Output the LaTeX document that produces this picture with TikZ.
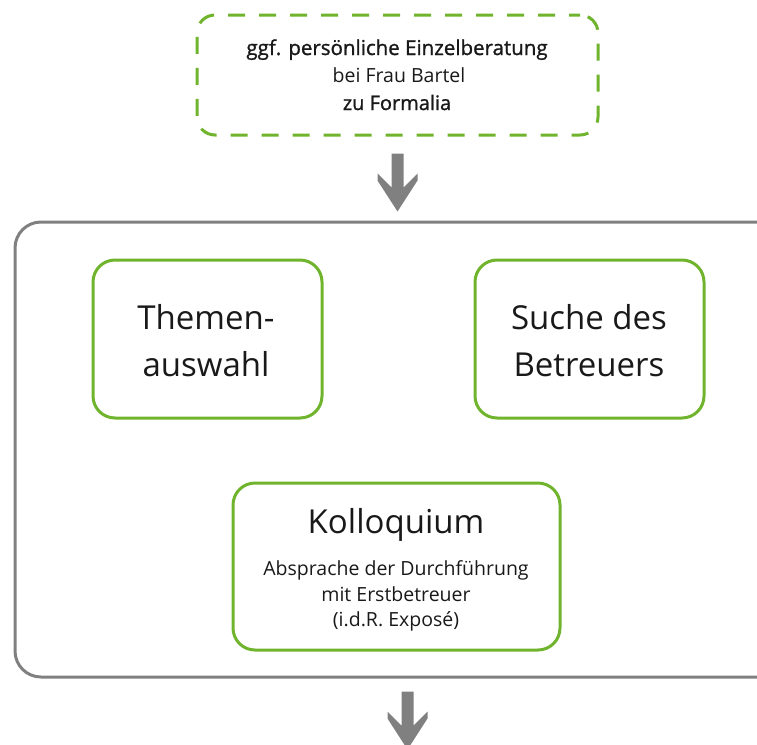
\documentclass[tikz,border=0pt]{standalone}
\usepackage{fontspec}
\setmainfont{Open Sans}
\newfontfamily\semib[FakeBold=1.2]{Open Sans}
\definecolor{boxgreen}{RGB}{112,180,45}
\definecolor{framegray}{RGB}{128,128,128}
\definecolor{txt}{RGB}{25,25,25}
\begin{document}
\begin{tikzpicture}[x=1pt,y=-1pt,
  greenbox/.style={draw=boxgreen,line width=3pt,rounded corners=22pt,inner sep=0pt},
  dashbox/.style={draw=boxgreen,line width=3pt,rounded corners=18pt,inner sep=0pt,dash pattern=on 17pt off 14pt,dash phase=6pt},
  outerbox/.style={draw=framegray,line width=3pt,rounded corners=26pt,inner sep=0pt},
  bigtext/.style={text=txt,font=\fontsize{33}{47}\selectfont,align=center,inner sep=0pt},
  smalltext/.style={text=txt,font=\fontsize{19.5}{26}\selectfont,inner sep=0pt,anchor=base},
  blockarrow/.style={fill=framegray,draw=none}
]
\useasboundingbox (0,0) rectangle (757,744);
\clip (0,0) rectangle (757,744);
% top dashed box
\node[dashbox,minimum width=401pt,minimum height=120pt] (top) at (397.5,75) {};
\node[smalltext,font=\fontsize{20.5}{26}\selectfont] (t1) at (397,55) {\semib ggf. persönliche Einzelberatung};
\node[smalltext] (t2) at (399,82) {bei Frau Bartel};
\node[smalltext,font=\fontsize{20}{26}\selectfont] (t3) at (397,110) {\semib zu Formalia};
% outer frame
\node[outerbox,minimum width=785pt,minimum height=455pt] (frame) at (407.5,449.5) {};
% inner boxes
\node[greenbox,minimum width=229pt,minimum height=158pt] (themen) at (207.5,339) {};
\node[bigtext] (themenT) at (206,341) {Themen-\\auswahl};
\node[greenbox,minimum width=229pt,minimum height=158pt] (suche) at (589.5,339) {};
\node[bigtext] (sucheT) at (589,341) {Suche des\\Betreuers};
\node[greenbox,minimum width=327pt,minimum height=167pt] (koll) at (396.5,566.5) {};
\node[smalltext,font=\fontsize{33}{40}\selectfont] (kollT) at (396,533) {Kolloquium};
\node[smalltext] (k1) at (396,575) {Absprache der Durchführung};
\node[smalltext] (k2) at (396,601) {mit Erstbetreuer};
\node[smalltext] (k3) at (396,626) {(i.d.R. Exposé)};
% block arrows
\coordinate (a1) at ([yshift=-17pt]top.south);
\coordinate (a2) at ([yshift=-13pt]frame.south);
\foreach \c in {a1,a2}{
  \fill[blockarrow] ([shift={(-6,0)}]\c) -- ([shift={(6,0)}]\c) -- ([shift={(6,34)}]\c)
    -- ([shift={(20,20)}]\c) -- ([shift={(20,27)}]\c) -- ([shift={(0,58)}]\c)
    -- ([shift={(-20,27)}]\c) -- ([shift={(-20,20)}]\c) -- ([shift={(-6,34)}]\c) -- cycle;
}
\end{tikzpicture}
\end{document}
